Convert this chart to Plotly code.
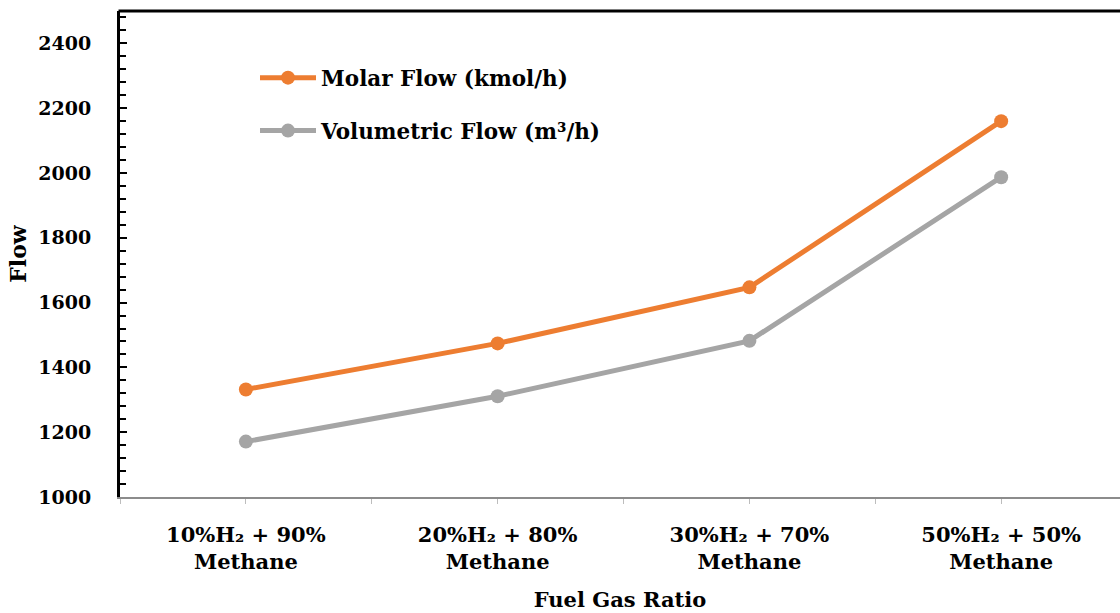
import plotly.graph_objects as go

categories = ["10%H₂ + 90%<br>Methane", "20%H₂ + 80%<br>Methane",
              "30%H₂ + 70%<br>Methane", "50%H₂ + 50%<br>Methane"]
molar_flow = [1332, 1474, 1647, 2160]
volumetric_flow = [1171, 1311, 1482, 1987]
y_ticks = [1000, 1200, 1400, 1600, 1800, 2000, 2200, 2400]

xpos = list(range(len(categories)))
FONT = "DejaVu Serif"

fig = go.Figure()
fig.add_trace(go.Scatter(
    x=xpos, y=molar_flow, mode="lines+markers", name="<b>Molar Flow (kmol/h)</b>",
    line=dict(color="#ED7D31", width=5), marker=dict(size=14, color="#ED7D31"),
    legendgroup="a"))
fig.add_trace(go.Scatter(
    x=xpos, y=volumetric_flow, mode="lines+markers", name="<b>Volumetric Flow (m³/h)</b>",
    line=dict(color="#A5A5A5", width=5), marker=dict(size=14, color="#A5A5A5"),
    legendgroup="b"))

fig.update_layout(
    width=1120, height=613,
    margin=dict(l=120, r=0, t=11, b=116),
    paper_bgcolor="white", plot_bgcolor="white",
    font=dict(family=FONT, color="black", size=18),
    showlegend=True,
    legend=dict(x=0.135, y=0.905, xanchor="left", yanchor="top",
                font=dict(size=21.5, family=FONT), tracegroupgap=22,
                bgcolor="rgba(0,0,0,0)", itemwidth=56),
    xaxis=dict(
        range=[-0.5, 3.472], tickmode="array", tickvals=xpos,
        ticktext=["<b>" + c.replace("<br>", "</b><br><b>") + "</b>" for c in categories],
        showgrid=False, zeroline=False,
        showline=True, linecolor="#8c8c8c", linewidth=1.5,
        ticks="outside", ticklen=5, tickcolor="#bdbdbd", tickwidth=1,
        minor=dict(tick0=0.5, dtick=1, ticks="outside", ticklen=5,
                   tickcolor="#bdbdbd", tickwidth=1),
        tickfont=dict(size=21, family=FONT),
        ticklabelstandoff=13,
        title=dict(text="<b>Fuel Gas Ratio</b>", font=dict(size=21, family=FONT), standoff=19),
    ),
    yaxis=dict(
        range=[1000, 2500], tickvals=y_ticks,
        ticktext=["<b>%d</b>" % v for v in y_ticks],
        showgrid=False, zeroline=False,
        showline=True, linecolor="black", linewidth=3,
        ticks="inside", ticklen=7, tickcolor="black", tickwidth=2,
        minor=dict(dtick=40, tick0=1000, ticks="inside", ticklen=6,
                   tickcolor="black", tickwidth=2),
        tickfont=dict(size=19, family=FONT),
        ticklabelstandoff=22,
        title=dict(text="<b>Flow</b>", font=dict(size=22, family=FONT), standoff=6),
    ),
    shapes=[dict(type="line", xref="paper", yref="paper", x0=-0.0015, x1=1, y0=1, y1=1,
                 line=dict(color="black", width=3))],
)

fig.write_html("out.html")
